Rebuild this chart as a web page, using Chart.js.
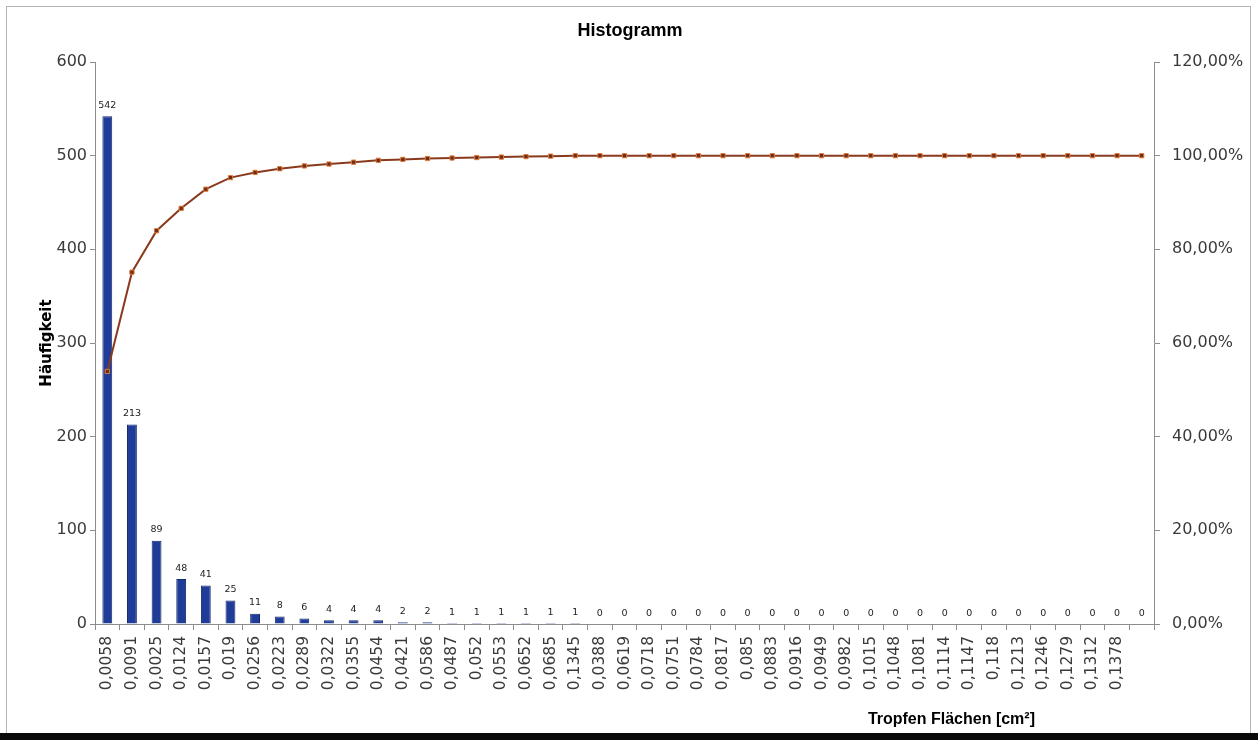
<!DOCTYPE html>
<html>
<head>
<meta charset="utf-8">
<script src="https://cdn.jsdelivr.net/npm/chart.js@4/dist/chart.umd.min.js"></script>
<style>
  html, body { margin: 0; padding: 0; background: #fff; }
  canvas { display: block; }
</style>
</head>
<body>
<canvas id="c" width="1258" height="740"></canvas>
<script>
// Size classes (drop area, cm²) as listed on the category axis; the last class has no label
const categories = ['0,0058','0,0091','0,0025','0,0124','0,0157','0,019','0,0256','0,0223','0,0289','0,0322',
  '0,0355','0,0454','0,0421','0,0586','0,0487','0,052','0,0553','0,0652','0,0685','0,1345',
  '0,0388','0,0619','0,0718','0,0751','0,0784','0,0817','0,085','0,0883','0,0916','0,0949',
  '0,0982','0,1015','0,1048','0,1081','0,1114','0,1147','0,118','0,1213','0,1246','0,1279',
  '0,1312','0,1378',''];

// Frequency per class
const counts = [542,213,89,48,41,25,11,8,6,4,
  4,4,2,2,1,1,1,1,1,1,
  0,0,0,0,0,0,0,0,0,0,
  0,0,0,0,0,0,0,0,0,0,
  0,0,0];

// Cumulative share in percent
const cumulative = [53.93,75.12,83.98,88.76,92.84,95.32,96.42,97.21,97.81,98.21,
  98.61,99.00,99.20,99.40,99.50,99.60,99.70,99.80,99.90,100,
  100,100,100,100,100,100,100,100,100,100,
  100,100,100,100,100,100,100,100,100,100,
  100,100,100];

// Axis tick values
const countTicks = [0,100,200,300,400,500,600];
const percentTicks = [0,20,40,60,80,100,120];

const axisGray = '#8c8c8c';
const tickText = '#3a3a3a';

// Frame around the chart and the dark strip along the bottom
const framePlugin = {
  id: 'frame',
  beforeDraw(chart) {
    const ctx = chart.ctx;
    ctx.save();
    ctx.fillStyle = '#ffffff';
    ctx.fillRect(0, 0, chart.width, chart.height);
    ctx.strokeStyle = '#b4b4b4';
    ctx.lineWidth = 1;
    ctx.strokeRect(6.5, 6.5, 1244, 740);
    ctx.fillStyle = '#0a0a0a';
    ctx.fillRect(0, 733, chart.width, 7);
    ctx.restore();
  },
  afterDraw(chart) {
    // Category axis title, placed toward the right end
    const ctx = chart.ctx;
    ctx.save();
    ctx.font = 'bold 16px "Liberation Sans", Arial, sans-serif';
    ctx.fillStyle = '#000';
    ctx.textAlign = 'right';
    ctx.textBaseline = 'middle';
    ctx.fillText('Tropfen Flächen [cm²]', 1035, 720);
    ctx.restore();
  }
};

// Value labels above each bar of the frequency dataset
const barLabels = {
  id: 'barLabels',
  afterDatasetsDraw(chart) {
    const ctx = chart.ctx;
    const idx = chart.data.datasets.findIndex(d => d.type === 'bar');
    const meta = chart.getDatasetMeta(idx);
    ctx.save();
    ctx.font = '9.5px "DejaVu Sans", sans-serif';
    ctx.fillStyle = '#222';
    ctx.textAlign = 'center';
    ctx.textBaseline = 'bottom';
    meta.data.forEach((bar, i) => {
      ctx.fillText(String(counts[i]), bar.x, bar.y - 6);
    });
    ctx.restore();
  }
};

new Chart(document.getElementById('c'), {
  type: 'bar',
  data: {
    labels: categories,
    datasets: [
      {
        type: 'line',
        label: 'Kumuliert %',
        data: cumulative,
        yAxisID: 'y1',
        order: 0,
        borderColor: '#8a3a1c',
        borderWidth: 2,
        pointStyle: 'rect',
        pointRadius: 3,
        pointBackgroundColor: '#6e2c16',
        pointBorderColor: '#e07a3a',
        pointBorderWidth: 1,
        tension: 0
      },
      {
        type: 'bar',
        label: 'Häufigkeit',
        data: counts,
        yAxisID: 'y',
        order: 1,
        backgroundColor: '#1f3c98',
        borderColor: '#13286e',
        borderWidth: 1,
        barPercentage: 0.4,
        categoryPercentage: 1.0
      }
    ]
  },
  options: {
    responsive: false,
    animation: false,
    devicePixelRatio: 1,
    layout: { padding: { left: 6, right: 4, top: 10, bottom: 0 } },
    plugins: {
      legend: { display: false },
      tooltip: { enabled: false },
      title: {
        display: true,
        text: 'Histogramm',
        color: '#000',
        font: { family: '"Liberation Sans", Arial, sans-serif', size: 18, weight: 'bold', lineHeight: 1.2 },
        padding: { top: 10, bottom: 20.4 }
      }
    },
    scales: {
      x: {
        type: 'category',
        offset: true,
        border: { display: true, color: axisGray, width: 1 },
        grid: { display: true, offset: true, drawOnChartArea: false, drawTicks: true, tickLength: 6, color: axisGray },
        ticks: {
          autoSkip: false,
          minRotation: 90,
          maxRotation: 90,
          padding: 6,
          color: tickText,
          font: { family: '"DejaVu Sans", sans-serif', size: 15.5 }
        },
        afterFit(scale) { scale.height = 116; }
      },
      y: {
        position: 'left',
        min: 0,
        max: 600,
        afterBuildTicks(scale) { scale.ticks = countTicks.map(v => ({ value: v })); },
        border: { display: true, color: axisGray, width: 1 },
        grid: { display: true, drawOnChartArea: false, drawTicks: true, tickLength: 5, color: axisGray },
        ticks: {
          padding: 3,
          color: tickText,
          font: { family: '"DejaVu Sans", sans-serif', size: 16 }
        },
        title: {
          display: true,
          text: 'Häufigkeit',
          color: '#000',
          font: { family: '"DejaVu Sans", sans-serif', size: 15, weight: 'bold', lineHeight: 1.2 },
          padding: { top: 32, bottom: 0 }
        },
        afterFit(scale) { scale.width = 89; }
      },
      y1: {
        position: 'right',
        min: 0,
        max: 120,
        afterBuildTicks(scale) { scale.ticks = percentTicks.map(v => ({ value: v })); },
        border: { display: true, color: axisGray, width: 1 },
        grid: { display: true, drawOnChartArea: false, drawTicks: true, tickLength: 6, color: axisGray },
        ticks: {
          padding: 12,
          color: tickText,
          font: { family: '"DejaVu Sans", sans-serif', size: 16 },
          callback: (v) => Number(v).toFixed(2).replace('.', ',') + '%'
        },
        afterFit(scale) { scale.width = 100; }
      }
    }
  },
  plugins: [framePlugin, barLabels]
});
</script>
</body>
</html>
